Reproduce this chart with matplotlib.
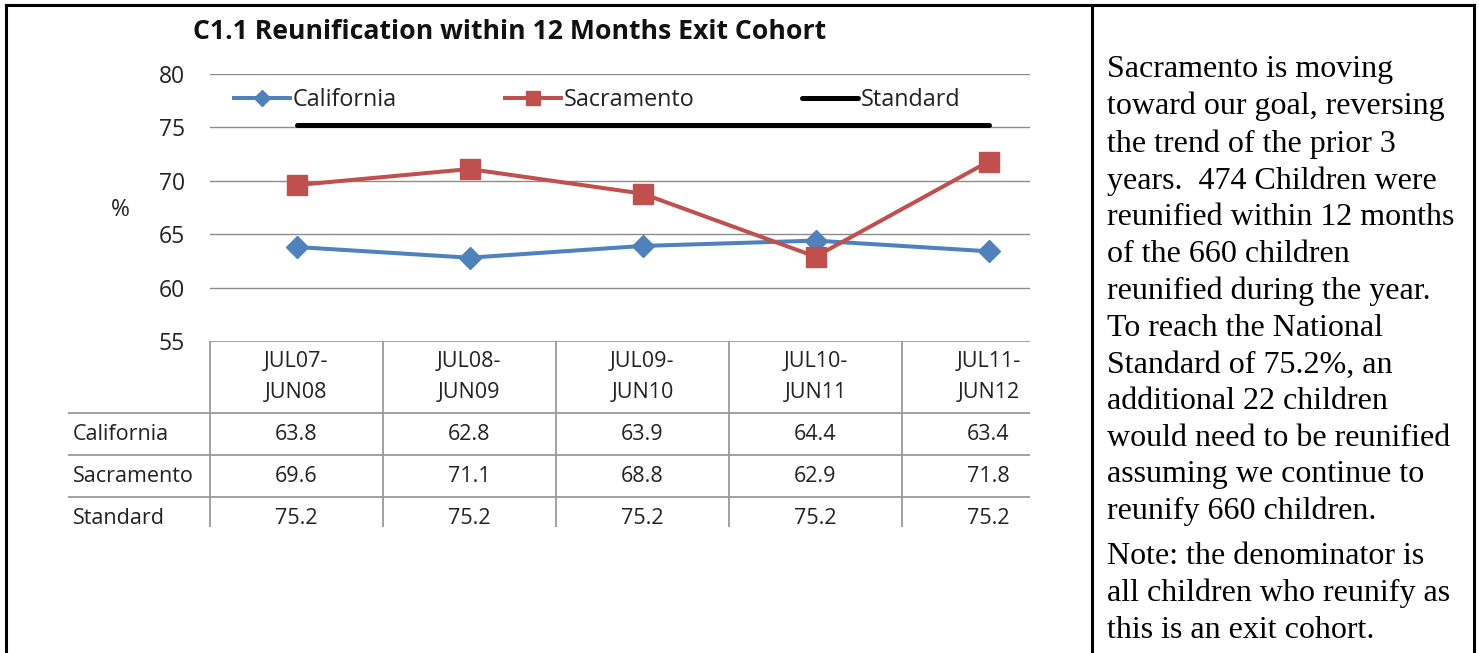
import matplotlib
matplotlib.use("Agg")
import matplotlib.pyplot as plt
from matplotlib.lines import Line2D

periods = ["JUL07-\nJUN08", "JUL08-\nJUN09", "JUL09-\nJUN10", "JUL10-\nJUN11", "JUL11-\nJUN12"]
california = [63.8, 62.8, 63.9, 64.4, 63.4]
sacramento = [69.6, 71.1, 68.8, 62.9, 71.8]
standard = [75.2, 75.2, 75.2, 75.2, 75.2]
series_names = ["California", "Sacramento", "Standard"]

title = "C1.1 Reunification within 12 Months Exit Cohort"
note_main = ("Sacramento is moving\ntoward our goal, reversing\nthe trend of the prior 3\n"
             "years.  474 Children were\nreunified within 12 months\nof the 660 children\n"
             "reunified during the year.\nTo reach the National\nStandard of 75.2%, an\n"
             "additional 22 children\nwould need to be reunified\nassuming we continue to\n"
             "reunify 660 children.")
note_extra = "Note: the denominator is\nall children who reunify as\nthis is an exit cohort."

font = "Open Sans"
blue = "#4F81BD"
red = "#C0504D"
grid_c = "#8C8C8C"
txt_c = "#222222"

W, H = 1479, 653
fig = plt.figure(figsize=(W / 100, H / 100), dpi=100)

def fx(px):
    return px / W

def fy(py):
    return 1 - py / H

# main chart area
col_w = 173.0
x_right = -0.5 + (1030 - 210) / col_w
ax = fig.add_axes([fx(210), fy(341), fx(1030) - fx(210), fy(74) - fy(341)])
ax.set_xlim(-0.5, x_right)
ax.set_ylim(55, 80)
ax.set_yticks([55, 60, 65, 70, 75, 80])
ax.set_xticks([])
for s in ax.spines.values():
    s.set_visible(False)
for v in [60, 65, 70, 75, 80]:
    ax.axhline(v, color=grid_c, lw=1.0, zorder=0)
ax.tick_params(axis="y", length=0, pad=18, labelsize=16.5)
for lab in ax.get_yticklabels():
    lab.set_fontfamily(font)
    lab.set_color(txt_c)

xs = list(range(len(periods)))
ax.plot(xs, california, color=blue, lw=2.9, marker="D", ms=11, label=series_names[0], zorder=3)
ax.plot(xs, sacramento, color=red, lw=2.9, marker="s", ms=14, label=series_names[1], zorder=3)
ax.plot(xs, standard, color="black", lw=3.6, solid_capstyle="round", label=series_names[2], zorder=2)

leg = ax.legend(ncol=3, loc="center left", frameon=False, markerscale=0.75,
                handlelength=2.4, handletextpad=0.12, columnspacing=4.62,
                prop={"family": font, "size": 16.8})
leg.set_bbox_to_anchor((fx(213), fy(100)), transform=fig.transFigure)
for t in leg.get_texts():
    t.set_color(txt_c)

fig.text(fx(120), fy(210), "%", ha="center", va="center", fontsize=16.5, family=font, color=txt_c)
fig.text(fx(510), fy(32), title, ha="center", va="center", fontsize=19.2, fontweight="bold",
         family=font, color="#111111")

# data table below the chart
tx_left = -0.5 - (210 - 68) / col_w
row_h = 42.0
tab_h = (527 - 341) / row_h
head_h = 72 / row_h
tab = fig.add_axes([fx(68), fy(527), fx(1030) - fx(68), fy(341) - fy(527)])
tab.set_xlim(tx_left, x_right)
tab.set_ylim(tab_h, 0)
tab.axis("off")
tab_c = "#9A9A9A"
tab.plot([-0.5, x_right], [0, 0], color=tab_c, lw=1.3)
for k in range(3):
    yb = head_h + k
    tab.plot([tx_left, x_right], [yb, yb], color=tab_c, lw=1.3)
for i in range(len(periods)):
    tab.plot([i - 0.5, i - 0.5], [0, tab_h], color=tab_c, lw=1.3)
    tab.text(i, head_h / 2, periods[i], ha="center", va="center", fontsize=15.5, family=font,
             linespacing=1.68, color=txt_c, clip_on=True)
rows = [california, sacramento, standard]
for r, vals in enumerate(rows):
    yc = head_h + r + 0.5
    tab.text(tx_left + 5 / col_w, yc, series_names[r], ha="left", va="center", fontsize=15.5,
             family=font, color=txt_c, clip_on=True)
    for i, v in enumerate(vals):
        tab.text(i, yc, f"{v:.1f}", ha="center", va="center", fontsize=15.5, family=font,
                 color=txt_c, clip_on=True)

# page borders
for seg in [((6, 1474), (5, 5)), ((6, 6), (5, 653)), ((1092, 1092), (5, 653)), ((1474, 1474), (5, 653))]:
    fig.add_artist(Line2D([fx(seg[0][0]), fx(seg[0][1])], [fy(seg[1][0]), fy(seg[1][1])],
                          color="black", lw=2.2, transform=fig.transFigure))

fig.text(fx(1107), fy(55), note_main, ha="left", va="top", fontsize=23, family="Liberation Serif",
         linespacing=1.345, color="black")
fig.text(fx(1107), fy(542), note_extra, ha="left", va="top", fontsize=23, family="Liberation Serif",
         linespacing=1.345, color="black")

fig.savefig("out.png", dpi=100)
